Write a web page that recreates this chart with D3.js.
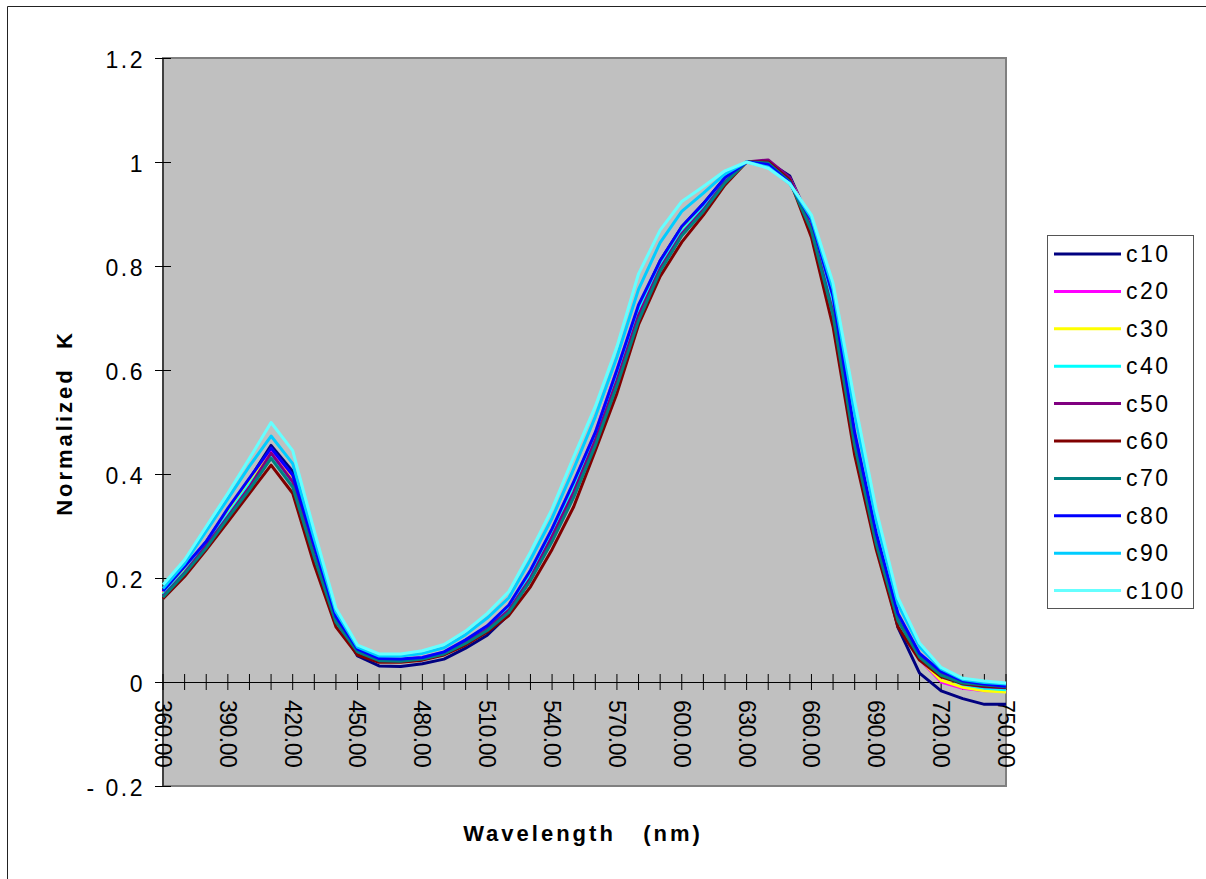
<!DOCTYPE html>
<html>
<head>
  <title></title>
  <script type="text/javascript" src="https://cdn.jsdelivr.net/npm/d3@7"></script>
</head>
<body>

  <style type="text/css">
    body {
      margin: 0;
      background-color: white;
    }

    text {
      font-family: "Liberation Sans", Arial, Helvetica, sans-serif;
      fill: #000;
    }

    .tick-label {
      font-size: 23px;
      letter-spacing: 2.5px;
    }

    .x-label {
      font-size: 23px;
      letter-spacing: -0.5px;
    }

    .axis-title {
      font-size: 22px;
      font-weight: bold;
      letter-spacing: 3px;
      white-space: pre;
    }

    .legend-label {
      font-size: 23px;
      letter-spacing: 2.5px;
    }

    .series {
      fill: none;
      stroke-width: 3px;
      stroke-linejoin: round;
    }
  </style>

  <div class="chart"></div>

  <script type="text/javascript">

    var wavelengths = [360, 370, 380, 390, 400, 410, 420, 430, 440, 450,
                       460, 470, 480, 490, 500, 510, 520, 530, 540, 550,
                       560, 570, 580, 590, 600, 610, 620, 630, 640, 650,
                       660, 670, 680, 690, 700, 710, 720, 730, 740, 750];

    var seriesNames = ['c10', 'c20', 'c30', 'c40', 'c50', 'c60', 'c70', 'c80', 'c90', 'c100'];
    var seriesColors = ['#000080', '#ff00ff', '#ffff00', '#00ffff', '#800080', '#800000', '#008080', '#0000ff', '#00ccff', '#66ffff'];

    var c10 = [.172, .215, .270, .330, .390, .455, .405, .260, .120, .050,
               .031, .030, .035, .044, .065, .090, .130, .200, .285, .375,
               .475, .595, .720, .810, .875, .920, .970, 1.00, 1.00, .973,
               .880, .720, .460, .270, .105, .017, -.017, -.032, -.043, -.043];
    var c20 = [.172, .218, .270, .330, .388, .445, .392, .255, .123, .061,
               .044, .043, .047, .057, .080, .107, .146, .212, .293, .382,
               .480, .600, .722, .808, .873, .918, .968, 1.00, 1.00, .968,
               .884, .730, .472, .276, .120, .044, .000, -.012, -.017, -.016];
    var c30 = [.170, .215, .268, .326, .384, .438, .388, .252, .122, .060,
               .043, .042, .046, .056, .079, .106, .145, .210, .290, .378,
               .476, .595, .718, .805, .870, .915, .967, 1.00, 1.00, .967,
               .882, .728, .470, .275, .120, .045, .003, -.010, -.017, -.019];
    var c40 = [.168, .212, .265, .322, .380, .435, .385, .250, .120, .060,
               .043, .042, .046, .056, .078, .104, .142, .205, .285, .372,
               .470, .590, .712, .800, .866, .912, .965, 1.00, .998, .965,
               .880, .725, .470, .275, .122, .050, .012, -.005, -.012, -.015];
    var c50 = [.165, .210, .262, .318, .375, .440, .385, .245, .118, .058,
               .042, .041, .045, .055, .076, .102, .138, .200, .280, .365,
               .465, .580, .705, .795, .862, .908, .962, 1.00, 1.004, .970,
               .872, .710, .460, .270, .120, .050, .015, -.004, -.009, -.011];
    var c60 = [.160, .203, .254, .308, .363, .417, .363, .225, .106, .052,
               .038, .038, .042, .052, .071, .096, .128, .183, .255, .337,
               .445, .555, .687, .780, .846, .898, .956, 1.00, 1.00, .965,
               .855, .683, .436, .254, .106, .042, .010, -.003, -.008, -.010];
    var c70 = [.163, .208, .258, .315, .370, .430, .375, .240, .115, .058,
               .041, .040, .044, .054, .074, .099, .134, .195, .270, .355,
               .455, .570, .695, .790, .858, .905, .960, 1.00, .998, .962,
               .868, .705, .455, .265, .118, .048, .013, -.002, -.006, -.009];
    var c80 = [.175, .222, .270, .334, .392, .450, .398, .262, .126, .063,
               .045, .044, .047, .058, .081, .108, .148, .215, .295, .385,
               .480, .600, .725, .810, .876, .920, .970, 1.00, .995, .960,
               .888, .741, .480, .286, .132, .055, .020, .002, -.004, -.008];
    var c90 = [.180, .228, .290, .352, .415, .473, .420, .275, .135, .067,
               .050, .050, .055, .066, .091, .123, .162, .235, .315, .410,
               .510, .625, .755, .845, .905, .940, .977, 1.00, .990, .958,
               .892, .755, .515, .310, .150, .068, .025, .005, -.001, -.004];
    var c100 = [.187, .235, .299, .363, .430, .499, .445, .290, .142, .071,
                .054, .054, .060, .072, .098, .132, .174, .250, .333, .433,
                .530, .645, .785, .869, .924, .953, .983, 1.00, .988, .958,
                .898, .767, .540, .330, .162, .075, .028, .007, .002, -.002];

    var yTicks = [-0.2, 0, 0.2, 0.4, 0.6, 0.8, 1, 1.2];
    var xTickLabels = [360, 390, 420, 450, 480, 510, 540, 570, 600, 630, 660, 690, 720, 750];

    var allSeries = [c10, c20, c30, c40, c50, c60, c70, c80, c90, c100];

    var plot = { left: 163, top: 58, right: 1006, bottom: 786 };

    var svg = d3.select('.chart').append('svg')
      .attr('width', 1206).attr('height', 879);

    // outer frame, only top and left edges fall inside the picture
    svg.append('path')
      .attr('d', 'M7.5,879 L7.5,6.5 L1206,6.5')
      .style('fill', 'none')
      .style('stroke', '#222')
      .style('stroke-width', 1);

    var x = d3.scaleLinear().domain([360, 750]).range([plot.left, plot.right]);
    var y = d3.scaleLinear().domain([-0.2, 1.2]).range([plot.bottom, plot.top]);

    svg.append('rect')
      .attr('x', plot.left).attr('y', plot.top)
      .attr('width', plot.right - plot.left)
      .attr('height', plot.bottom - plot.top)
      .style('fill', '#c0c0c0')
      .style('stroke', '#808080')
      .style('stroke-width', 2);

    // y axis with crossing ticks
    var yAxis = svg.append('g');
    yAxis.append('line')
      .attr('x1', plot.left).attr('x2', plot.left)
      .attr('y1', plot.top).attr('y2', plot.bottom)
      .style('stroke', '#000').style('stroke-width', 1);
    yAxis.selectAll('.ytick').data(yTicks).enter().append('line')
      .attr('x1', plot.left - 8).attr('x2', plot.left + 8)
      .attr('y1', function (d) { return Math.round(y(d)) + 0.5; })
      .attr('y2', function (d) { return Math.round(y(d)) + 0.5; })
      .style('stroke', '#000').style('stroke-width', 1);
    yAxis.selectAll('.ylabel').data(yTicks).enter().append('text')
      .attr('class', 'tick-label')
      .attr('x', 145)
      .attr('y', function (d) { return y(d) + 10; })
      .style('text-anchor', 'end')
      .text(function (d) { return d < 0 ? '- ' + d3.format('')(Math.abs(d)) : d3.format('')(d); });

    // x axis at zero, ticks every 10 nm
    var xAxis = svg.append('g');
    xAxis.append('line')
      .attr('x1', plot.left - 8).attr('x2', plot.right)
      .attr('y1', Math.round(y(0)) + 0.5).attr('y2', Math.round(y(0)) + 0.5)
      .style('stroke', '#000').style('stroke-width', 1);
    xAxis.selectAll('.xtick').data(wavelengths).enter().append('line')
      .attr('x1', function (d) { return x(d); })
      .attr('x2', function (d) { return x(d); })
      .attr('y1', y(0) - 8).attr('y2', y(0) + 8)
      .style('stroke', '#000').style('stroke-width', 1);
    xAxis.selectAll('.xlabel').data(xTickLabels).enter().append('text')
      .attr('class', 'x-label')
      .attr('transform', function (d) {
        return 'translate(' + x(d) + ',700) rotate(90)';
      })
      .attr('dy', '0.35em')
      .text(function (d) { return d3.format('.2f')(d); });

    // series
    var line = d3.line()
      .x(function (d, i) { return x(wavelengths[i]); })
      .y(function (d) { return y(d); });

    svg.append('g').selectAll('.series')
      .data(allSeries).enter().append('path')
        .attr('class', 'series')
        .attr('d', line)
        .style('stroke', function (d, i) { return seriesColors[i]; });

    // titles
    svg.append('text')
      .attr('class', 'axis-title')
      .attr('xml:space', 'preserve')
      .attr('x', 583).attr('y', 841)
      .style('text-anchor', 'middle')
      .text('Wavelength   (nm)');

    svg.append('text')
      .attr('class', 'axis-title')
      .attr('xml:space', 'preserve')
      .attr('transform', 'translate(72,423) rotate(-90)')
      .style('text-anchor', 'middle')
      .text('Normalized  K');

    // legend
    var legend = svg.append('g');
    legend.append('rect')
      .attr('x', 1047.5).attr('y', 235.5)
      .attr('width', 146).attr('height', 373)
      .style('fill', 'white')
      .style('stroke', '#555')
      .style('stroke-width', 1);

    var rows = legend.selectAll('.row')
      .data(seriesNames).enter().append('g')
        .attr('transform', function (d, i) {
          return 'translate(0,' + (254 + i * 37.4) + ')';
        });
    rows.append('line')
      .attr('x1', 1054).attr('x2', 1121)
      .style('stroke', function (d, i) { return seriesColors[i]; })
      .style('stroke-width', 3);
    rows.append('text')
      .attr('class', 'legend-label')
      .attr('x', 1126).attr('y', 8)
      .text(function (d) { return d; });
  </script>
</body>
</html>
